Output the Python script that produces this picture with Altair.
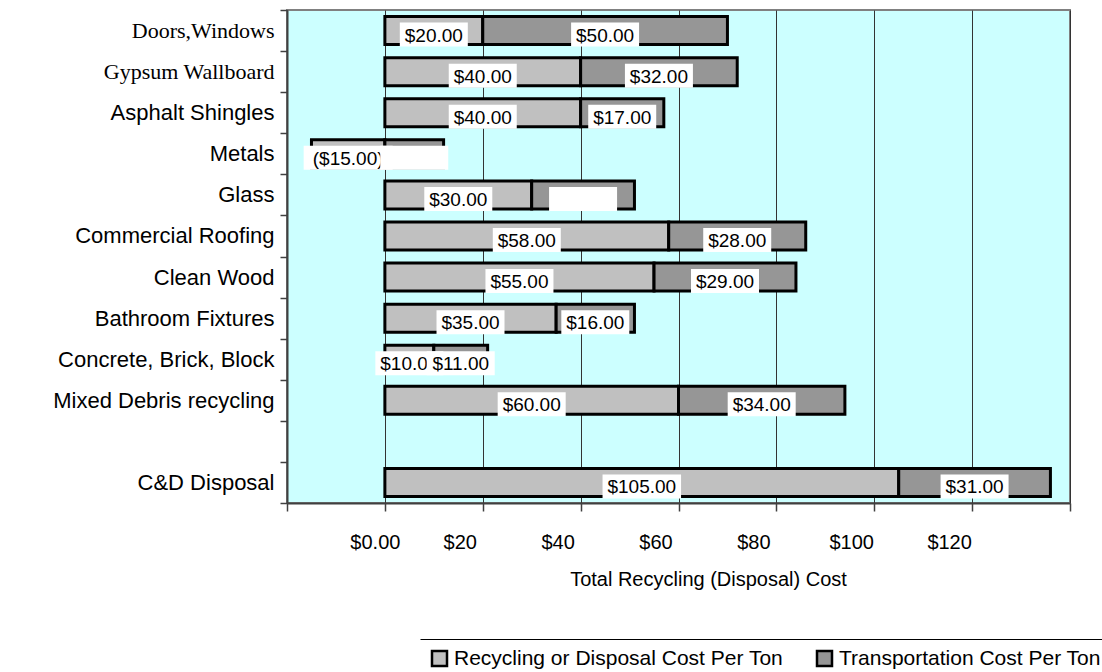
import altair as alt
import pandas as pd

categories = ["Doors,Windows", "Gypsum Wallboard", "Asphalt Shingles", "Metals", "Glass",
              "Commercial Roofing", "Clean Wood", "Bathroom Fixtures", "Concrete, Brick, Block",
              "Mixed Debris recycling", "C&D Disposal"]
axis_order = categories[:10] + [" "] + categories[10:]
recycling = [20, 40, 40, -15, 30, 58, 55, 35, 10, 60, 105]
transport = [50, 32, 17, 12, 21, 28, 29, 16, 11, 34, 31]
recycling_text = ["$20.00", "$40.00", "$40.00", "($15.00)", "$30.00", "$58.00", "$55.00",
                  "$35.00", "$10.00", "$60.00", "$105.00"]
transport_text = ["$50.00", "$32.00", "$17.00", "", "", "$28.00", "$29.00", "$16.00",
                  "$11.00", "$34.00", "$31.00"]
series_names = ["Recycling or Disposal Cost Per Ton", "Transportation Cost Per Ton"]
series_colors = ["#C0C0C0", "#969696"]
x_ticks = [-20, 0, 20, 40, 60, 80, 100, 120, 140]
serif_labels = ["Doors,Windows", "Gypsum Wallboard"]

W, H = 783, 493
XMIN, XMAX = -20, 140
ppu = W / (XMAX - XMIN)


def money(v):
    s = f"${abs(v):.2f}"
    return f"({s})" if v < 0 else s


rows = []
for c, r, t, rl, tl in zip(categories, recycling, transport, recycling_text, transport_text):
    rows.append(dict(cat=c, series=series_names[0], start=0, end=r, label=rl, full=money(r)))
    s = max(r, 0)
    rows.append(dict(cat=c, series=series_names[1], start=s, end=s + t, label=tl, full=money(t)))
df = pd.DataFrame(rows)

TITLE = "Total Recycling (Disposal) Cost"
xscale = alt.Scale(domain=[XMIN, XMAX], nice=False, zero=False)
yscale = alt.Scale(domain=axis_order, paddingInner=0, paddingOuter=0)

serif_test = " || ".join([f"datum.value == '{s}'" for s in serif_labels])

bars = alt.Chart(df).mark_bar(stroke="black", strokeWidth=3, size=28).encode(
    y=alt.Y("cat:N", scale=yscale, title=None,
            axis=alt.Axis(labelFontSize=22,
                          labelFont={"condition": {"test": serif_test, "value": "Liberation Serif"},
                                     "value": "Liberation Sans"},
                          labelPadding=6, tickSize=7, tickBand="extent", domainWidth=2,
                          labelLimit=320, grid=False, labelColor="black")),
    x=alt.X("start:Q", scale=xscale, title=TITLE,
            axis=alt.Axis(values=x_ticks,
                          labelExpr="datum.value == 0 ? '$0.00' : ((datum.value < 0 || datum.value > 130) ? '' : '$' + datum.value)",
                          labelFontSize=20, labelFlush=False, labelOverlap=False,
                          labelOffset={"condition": {"test": "datum.value == 0", "value": -10},
                                       "value": -23},
                          labelPadding=21, tickSize=8, grid=True, gridColor="#333333",
                          gridWidth=1, domainWidth=2, titleFontSize=20,
                          titleFontWeight="normal", titlePadding=17, titleX=421)),
    x2="end:Q",
    color=alt.Color("series:N",
                    scale=alt.Scale(domain=series_names, range=series_colors),
                    legend=alt.Legend(title=None, orient="none", legendX=133, legendY=629,
                                      direction="horizontal", columns=2, gridAlign="all",
                                      symbolType="square", symbolSize=225,
                                      symbolStrokeColor="black", symbolStrokeWidth=2.5,
                                      symbolOpacity=1, labelFontSize=21,
                                      labelFont="Liberation Sans", labelColor="black",
                                      labelOffset=4, columnPadding=28, padding=9,
                                      strokeColor="black", fillColor="white",
                                      labelLimit=400)),
)


def label_layers(name):
    base = alt.Chart(df).transform_filter(alt.datum.series == name).transform_calculate(
        mid="(datum.start + datum.end) / 2",
        half=f"(length(datum.full) * 10.5 + 5) / 2 / {ppu}",
    ).transform_calculate(
        lo="datum.mid - datum.half",
        hi="datum.mid + datum.half",
    )
    box = base.mark_bar(color="white", size=24, yOffset=4).encode(
        y=alt.Y("cat:N", scale=yscale, title=None),
        x=alt.X("lo:Q", scale=xscale, title=TITLE),
        x2="hi:Q",
    )
    txt = base.mark_text(fontSize=19, font="Liberation Sans", color="black",
                         baseline="middle", dy=5).encode(
        y=alt.Y("cat:N", scale=yscale, title=None),
        x=alt.X("mid:Q", scale=xscale, title=TITLE),
        text="label:N",
    )
    return [box, txt]


layers = [bars] + label_layers(series_names[0]) + label_layers(series_names[1])

chart = alt.layer(*layers).properties(
    width=W, height=H,
    padding={"left": 287, "top": 10, "right": 32, "bottom": 169},
    autosize=alt.AutoSizeParams(type="none"),
    background="white",
).configure_view(
    fill="#CCFFFF", stroke="#808080", strokeWidth=2
).configure_axis(
    labelFont="Liberation Sans", titleFont="Liberation Sans",
    labelColor="black", titleColor="black",
    domainColor="#404040", tickColor="#404040", tickWidth=1.5,
).configure_legend(
    strokeDash=[800, 3000]
)

chart.save("out.html", embed_options={"renderer": "svg", "actions": False})
